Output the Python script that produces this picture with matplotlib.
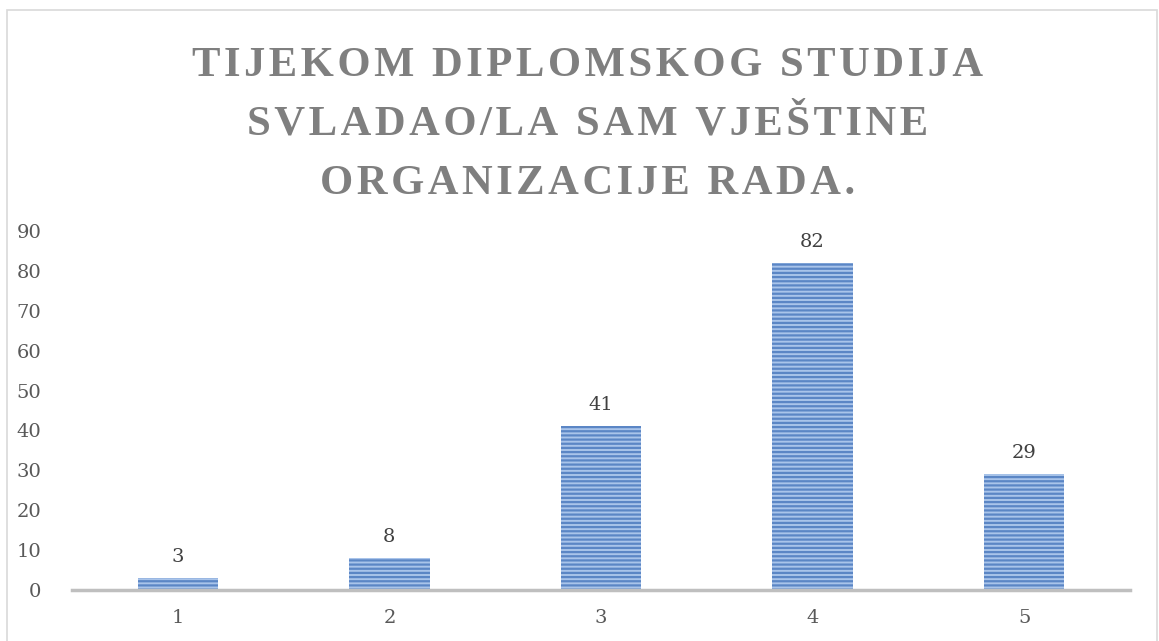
import matplotlib.pyplot as plt
from matplotlib.patches import Rectangle

plt.rcParams['font.family'] = ['DejaVu Serif']
plt.rcParams['hatch.linewidth'] = 1.6

categories = ['1', '2', '3', '4', '5']
values = [3, 8, 41, 82, 29]
title_lines = ['TIJEKOM DIPLOMSKOG STUDIJA', 'SVLADAO/LA SAM VJEŠTINE', 'ORGANIZACIJE RADA.']
yticks = [0, 10, 20, 30, 40, 50, 60, 70, 80, 90]


def spaced(s):
    # poor man's letter spacing
    return '\u200a'.join(s)


fig = plt.figure(figsize=[11.59, 6.41], dpi=100)
ax = fig.add_axes([0.0621, 0.0796, 0.9129, 0.56])

x = list(range(len(categories)))
bars = ax.bar(x, values, width=0.38, color='#a9c4ea', edgecolor='#5b86c5',
              hatch='----', linewidth=0)
for b, v in zip(bars, values):
    ax.text(b.get_x() + b.get_width() / 2, v + 3, str(v), ha='center', va='bottom',
            fontsize=14, color='#404040')

ax.set_xlim(-0.5, len(categories) - 0.5)
ax.set_ylim(0, 90)
ax.set_yticks(yticks)
ax.set_xticks(x)
ax.set_xticklabels(categories)
ax.tick_params(length=0, labelsize=14, labelcolor='#595959')
ax.tick_params(axis='y', pad=22)
ax.tick_params(axis='x', pad=14)
for s in ['top', 'right', 'left']:
    ax.spines[s].set_visible(False)
ax.spines['bottom'].set_color('#bfbfbf')
ax.spines['bottom'].set_linewidth(2.5)

for i, line in enumerate(title_lines):
    fig.text(0.507, 0.897 - i * 0.092, spaced(line), ha='center', va='center',
             fontsize=30.7, fontweight='bold', color='#7f7f7f',
             family=['Liberation Serif', 'DejaVu Serif'])

fig.patches.append(Rectangle((7 / 1159, -0.01), 1150 / 1159, 1 - 10 / 641 + 0.01,
                             transform=fig.transFigure, fill=False,
                             edgecolor='#d9d9d9', linewidth=1.2))

fig.savefig('out.png', dpi=100)
